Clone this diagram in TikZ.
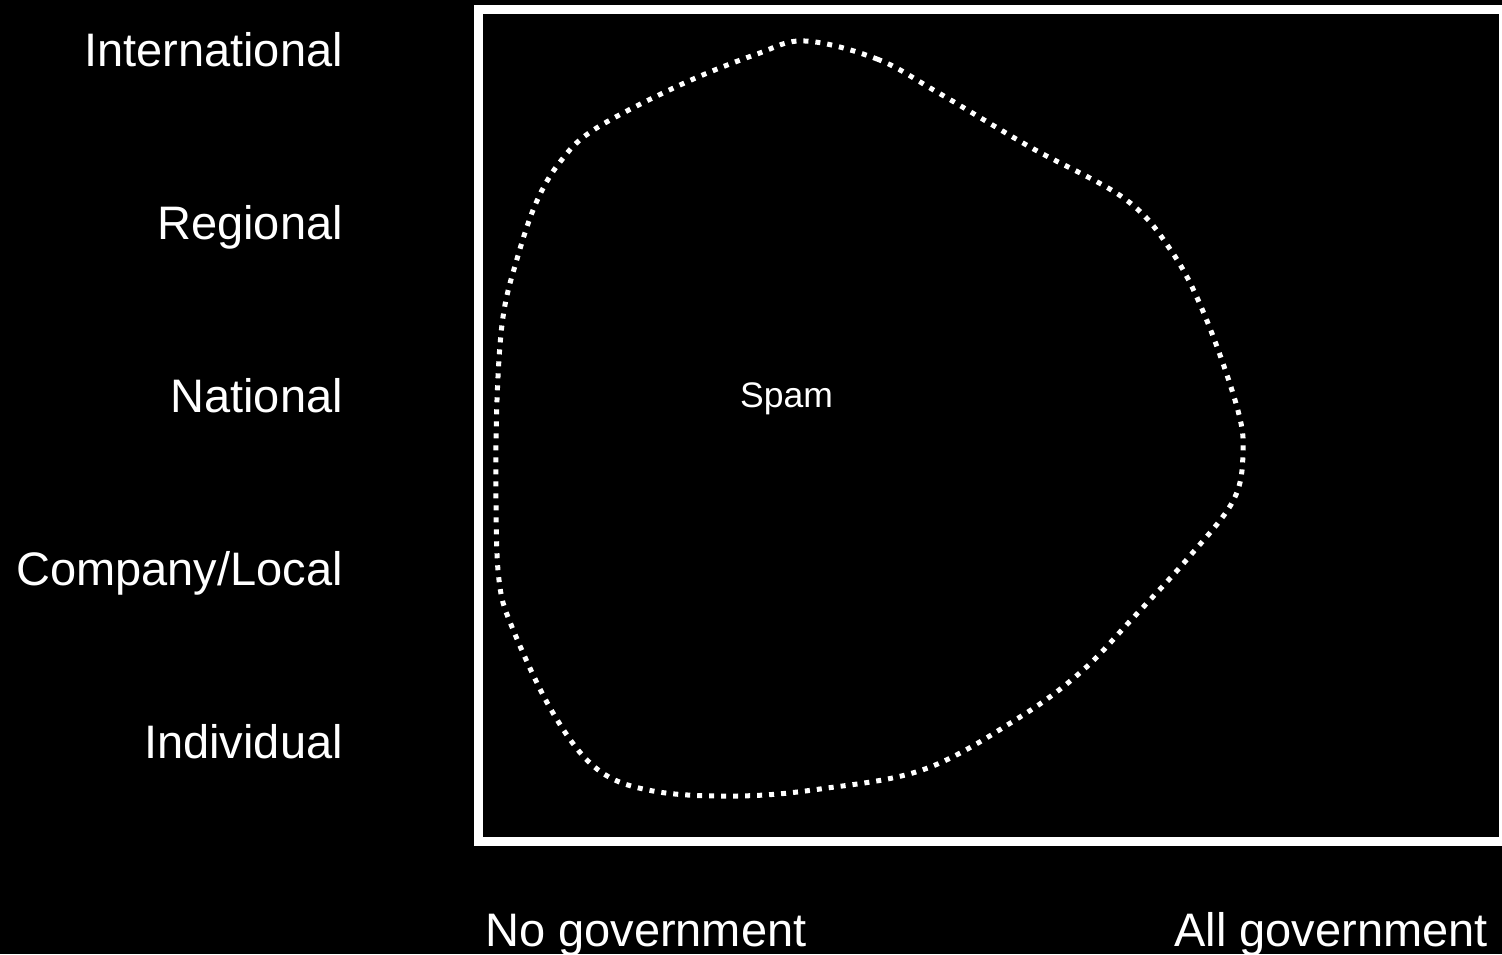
\documentclass[tikz,border=0pt]{standalone}
\usepackage{fontspec}
\setmainfont{Liberation Sans}
\begin{document}
\begin{tikzpicture}[x=1pt,y=-1pt,
  lbl/.style={text=white,inner sep=0pt,font=\fontsize{47}{56}\selectfont},
  frame/.style={draw=white,line width=9pt},
  blob/.style={draw=white,line width=5pt,line cap=butt,dash pattern=on 5pt off 7pt}]
\fill[black] (0,0) rectangle (1502,954);
\useasboundingbox (0,0) rectangle (1502,954);
\begin{scope}
\clip (0,0) rectangle (1502,954);
\draw[frame] (478,9) rectangle (1503,841);
\end{scope}
\node[lbl,anchor=base east] (intl) at (343,66) {International};
\node[lbl,anchor=base east] (reg) at (343,239) {Regional};
\node[lbl,anchor=base east] (nat) at (343,412) {National};
\node[lbl,anchor=base east] (comp) at (343,585) {Company/Local};
\node[lbl,anchor=base east] (ind) at (343,758) {Individual};
\node[lbl,anchor=base west] (nogov) at (485,946) {No government};
\node[lbl,anchor=base east] (allgov) at (1488,946) {All government};
\node[text=white,inner sep=0pt,anchor=base west,font=\fontsize{35.5}{42}\selectfont] (spam) at (740,407) {Spam};
\draw[blob] plot[smooth cycle,tension=0.6] coordinates {
(805,41) (877,59) (937,92) (1030,147) (1125,199) (1172,252) (1205,316)
(1237,407) (1243,454) (1233,501) (1189,557) (1132,619) (1082,671) (1020,717)
(925,769) (820,789) (737,796) (653,791) (597,769) (553,713) (512,627)
(499,580) (496,500) (497,400) (503,317) (517,259) (536,203) (560,162)
(595,129) (680,85) (757,54)};
\end{tikzpicture}
\end{document}
